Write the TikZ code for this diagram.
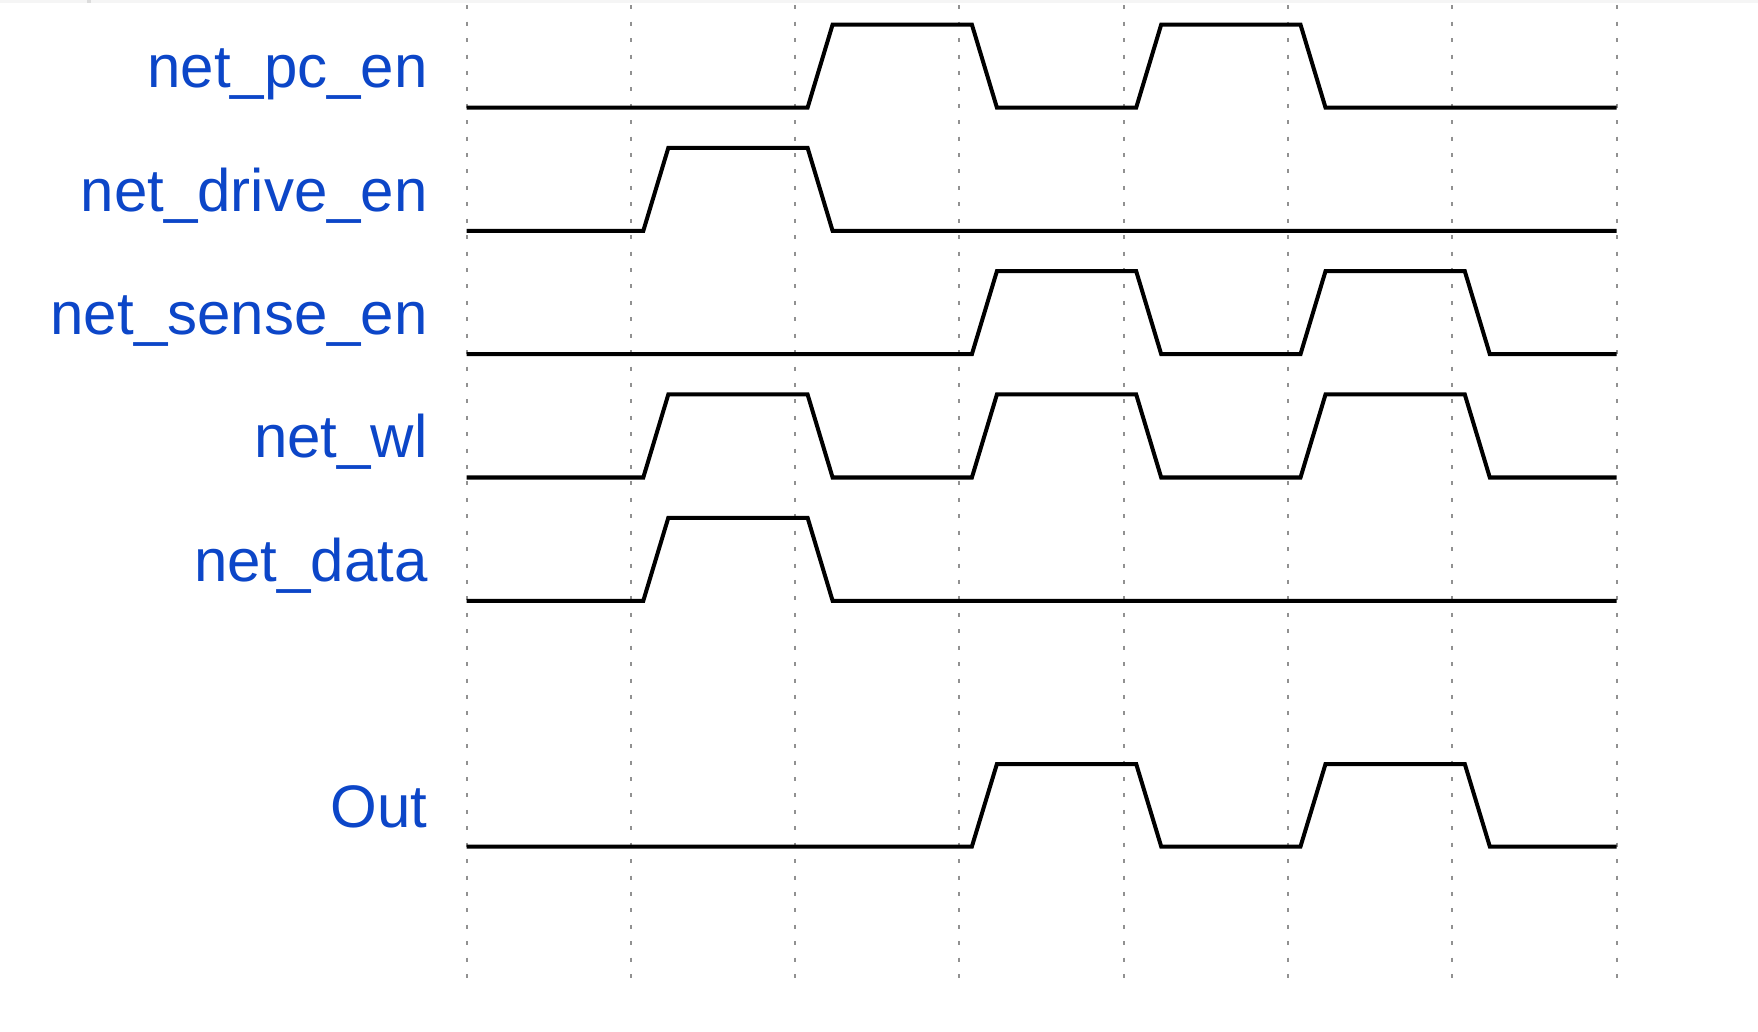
\documentclass[tikz,border=0pt]{standalone}
\usepackage{fontspec}
\setmainfont{Liberation Sans}
\definecolor{labelblue}{RGB}{12,70,200}
\definecolor{gridgray}{RGB}{145,145,145}
\definecolor{topbar}{RGB}{245,245,245}
\definecolor{topmark}{RGB}{220,220,220}
\begin{document}
\begin{tikzpicture}[x=0.5pt,y=-0.5pt,
  sig/.style={line width=2pt,black},
  gridline/.style={line width=1pt,gridgray,dash pattern=on 2pt off 6.21pt},
  siglabel/.style={anchor=base east,inner sep=0pt,text=labelblue,font=\fontsize{30}{36}\selectfont}]
\useasboundingbox (0,0) rectangle (1758,1032);
\fill[white] (0,0) rectangle (1758,1032);
\fill[topbar] (0,0) rectangle (1758,3.3);
\fill[topmark] (87,0) rectangle (91,3.3);
% grid
\foreach \k in {0,...,7}{
  \draw[gridline] ({466.5+164.3*\k},5.3) -- ({466.5+164.3*\k},979);
}
% labels
\node[siglabel] (lpc) at (428,88) {net\_pc\_en};
\node[siglabel] (ldrive) at (428,211.4) {net\_drive\_en};
\node[siglabel] (lsense) at (428,334.7) {net\_sense\_en};
\node[siglabel] (lwl) at (428,458) {net\_wl};
\node[siglabel] (ldata) at (428,581.3) {net\_data};
\node[siglabel] (lout) at (428,827) {Out};
% net_pc_en : low 107.6 high 24.6
\draw[sig] (466.5,107.6) -- (807.6,107.6) -- (832.6,24.6) -- (971.9,24.6) -- (996.9,107.6)
  -- (1136.2,107.6) -- (1161.2,24.6) -- (1300.5,24.6) -- (1325.5,107.6) -- (1616.6,107.6);
% net_drive_en : low 230.9 high 147.9
\draw[sig] (466.5,230.9) -- (643.3,230.9) -- (668.3,147.9) -- (807.6,147.9) -- (832.6,230.9) -- (1616.6,230.9);
% net_sense_en : low 354.2 high 271.2
\draw[sig] (466.5,354.2) -- (971.9,354.2) -- (996.9,271.2) -- (1136.2,271.2) -- (1161.2,354.2)
  -- (1300.5,354.2) -- (1325.5,271.2) -- (1464.8,271.2) -- (1489.8,354.2) -- (1616.6,354.2);
% net_wl : low 477.5 high 394.5
\draw[sig] (466.5,477.5) -- (643.3,477.5) -- (668.3,394.5) -- (807.6,394.5) -- (832.6,477.5)
  -- (971.9,477.5) -- (996.9,394.5) -- (1136.2,394.5) -- (1161.2,477.5)
  -- (1300.5,477.5) -- (1325.5,394.5) -- (1464.8,394.5) -- (1489.8,477.5) -- (1616.6,477.5);
% net_data : low 600.8 high 517.8
\draw[sig] (466.5,600.8) -- (643.3,600.8) -- (668.3,517.8) -- (807.6,517.8) -- (832.6,600.8) -- (1616.6,600.8);
% Out : low 846.5 high 764
\draw[sig] (466.5,846.5) -- (971.9,846.5) -- (996.9,764) -- (1136.2,764) -- (1161.2,846.5)
  -- (1300.5,846.5) -- (1325.5,764) -- (1464.8,764) -- (1489.8,846.5) -- (1616.6,846.5);
\end{tikzpicture}
\end{document}
